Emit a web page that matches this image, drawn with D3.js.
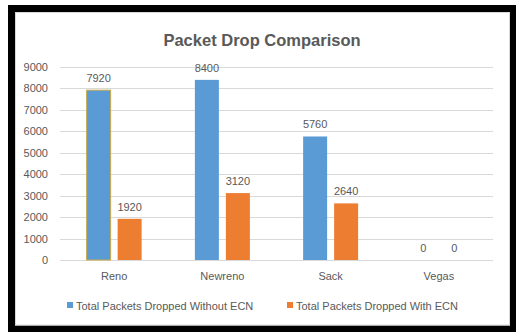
<!DOCTYPE html>
<html>
<head>
<meta charset="utf-8">
<script src="https://cdn.jsdelivr.net/npm/d3@7"></script>
<style>
  html, body { margin: 0; padding: 0; background: #fff; }
  svg { display: block; }
  text { font-family: "Liberation Sans", Arial, sans-serif; fill: #595959; }
</style>
</head>
<body>
<svg id="chart" width="516" height="332"></svg>
<script>
// Packet drops per TCP variant, with and without ECN
const categories = ["Reno", "Newreno", "Sack", "Vegas"];
const seriesNames = ["Total Packets Dropped Without ECN", "Total Packets Dropped With ECN"];
const withoutECN = [7920, 8400, 5760, 0];
const withECN = [1920, 3120, 2640, 0];
const yTicks = [0, 1000, 2000, 3000, 4000, 5000, 6000, 7000, 8000, 9000];
const colors = ["#5B9BD5", "#ED7D31"];

const svg = d3.select("#chart");

// outer black frame and chart area
svg.append("rect").attr("x", 0).attr("y", 0).attr("width", 516).attr("height", 332).attr("fill", "#fff");
svg.append("rect")
  .attr("x", 11.5).attr("y", 8.5).attr("width", 502).attr("height", 320.5)
  .attr("fill", "none").attr("stroke", "#000").attr("stroke-width", 7);
svg.append("rect")
  .attr("x", 15.5).attr("y", 12.5).attr("width", 494).attr("height", 312.5)
  .attr("fill", "#fff").attr("stroke", "#d9d9d9").attr("stroke-width", 1);

const plot = { left: 60, right: 493, top: 67, bottom: 260 };

const x = d3.scaleBand().domain(categories).range([plot.left, plot.right]).padding(0);
const y = d3.scaleLinear().domain([0, 9000]).range([plot.bottom, plot.top]);

// title
svg.append("text")
  .attr("x", 262).attr("y", 46)
  .attr("text-anchor", "middle")
  .style("font-size", "16.5px").style("font-weight", "bold")
  .text("Packet Drop Comparison");

// gridlines
svg.append("g").selectAll("line").data(yTicks).join("line")
  .attr("x1", plot.left).attr("x2", plot.right)
  .attr("y1", d => Math.round(y(d)) + 0.5).attr("y2", d => Math.round(y(d)) + 0.5)
  .attr("stroke", "#d9d9d9").attr("stroke-width", 1);

// y axis labels
const yAxis = d3.axisLeft(y).tickValues(yTicks).tickSize(0).tickPadding(12).tickFormat(d3.format("d"));
const gy = svg.append("g").attr("transform", `translate(${plot.left},0)`).call(yAxis);
gy.select(".domain").remove();
gy.selectAll("text").style("font-size", "11px").attr("fill", "#595959")
  .style("font-family", "'Liberation Sans', Arial, sans-serif");

// x axis labels
const xAxis = d3.axisBottom(x).tickSize(0).tickPadding(12);
const gx = svg.append("g").attr("transform", `translate(0,${plot.bottom})`).call(xAxis);
gx.select(".domain").remove();
gx.selectAll("text").style("font-size", "11px").attr("fill", "#595959")
  .style("font-family", "'Liberation Sans', Arial, sans-serif");

// bars
const barW = 24, gap = 7;
const series = [withoutECN, withECN];
series.forEach((vals, si) => {
  const offset = si === 0 ? -(gap / 2) - barW : gap / 2;
  const g = svg.append("g");
  g.selectAll("rect").data(categories).join("rect")
    .attr("x", c => x(c) + x.bandwidth() / 2 + offset)
    .attr("y", (c, i) => y(vals[i]))
    .attr("width", barW)
    .attr("height", (c, i) => y(0) - y(vals[i]))
    .attr("fill", colors[si])
    .attr("stroke", (c, i) => (si === 0 && i === 0) ? "#c9a94a" : "none")
    .attr("stroke-width", 1);
  g.selectAll("text").data(categories).join("text")
    .attr("x", c => x(c) + x.bandwidth() / 2 + offset + barW / 2)
    .attr("y", (c, i) => y(vals[i]) - 8)
    .attr("text-anchor", "middle")
    .style("font-size", "11px")
    .attr("fill", "#404040")
    .text((c, i) => vals[i]);
});

// legend
const legendItems = [
  { name: seriesNames[0], color: colors[0], x: 67 },
  { name: seriesNames[1], color: colors[1], x: 287 }
];
const lg = svg.append("g");
legendItems.forEach(item => {
  lg.append("rect").attr("x", item.x).attr("y", 302).attr("width", 6).attr("height", 6).attr("fill", item.color);
  lg.append("text").attr("x", item.x + 9).attr("y", 309.5)
    .style("font-size", "11px").text(item.name);
});
</script>
</body>
</html>
